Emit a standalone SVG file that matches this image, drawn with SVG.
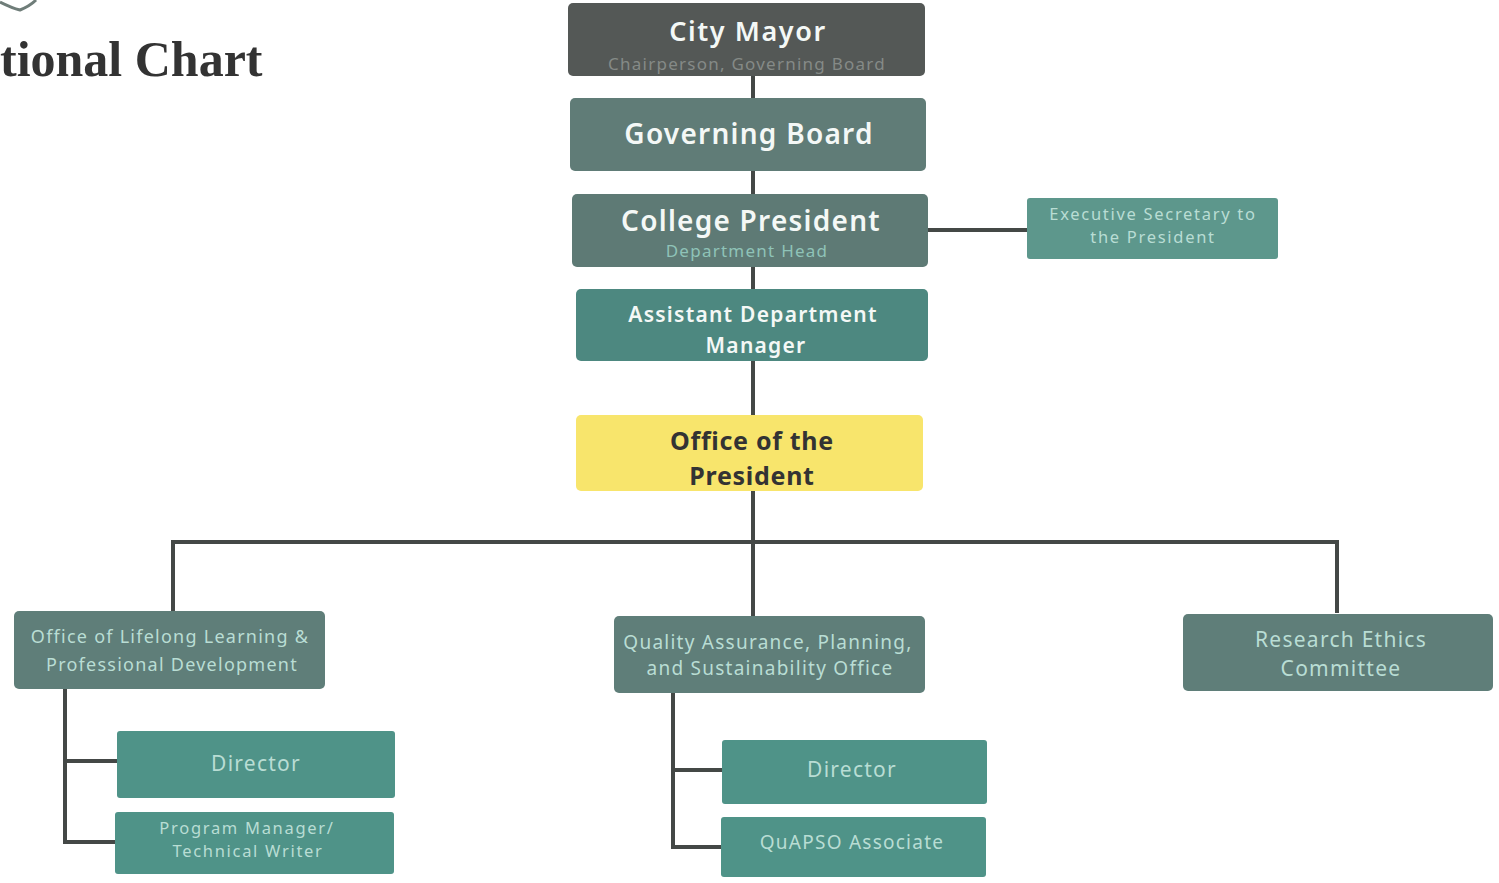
<svg xmlns="http://www.w3.org/2000/svg" width="1499" height="883" viewBox="0 0 1499 883">
<style>
.n{font-family:"Noto Sans","Open Sans",sans-serif;text-anchor:middle;letter-spacing:1.25px}
.t{font-weight:600;fill:#f4f8f6}
.s{fill:#b9ddd4}
.sm{font-size:16.5px;letter-spacing:1.7px}
.c{fill:none;stroke:#444846;stroke-width:4}
</style>
<rect width="1499" height="883" fill="#ffffff"/>
<path d="M0,2 Q12,8 20,10 Q30,6 36,0" fill="none" stroke="#6f7d79" stroke-width="3"/>
<text x="0" y="76" font-family="'Liberation Serif','DejaVu Serif',serif" font-weight="bold" font-size="50" fill="#333333">tional Chart</text>
<g id="connectors">
<path class="c" d="M753,76 V616"/>
<path class="c" d="M928,230 H1027"/>
<path class="c" d="M173,611 V542 H1337 V613"/>
<path class="c" d="M65,689 V842 H116 M65,761 H117"/>
<path class="c" d="M673,693 V847 H721 M673,770 H722"/>
</g>
<g id="city-mayor">
<rect x="568" y="3" width="357" height="73" rx="5" fill="#545856"/>
<text class="n t" x="748" y="41" font-size="27" style="letter-spacing:1.6px">City Mayor</text>
<text class="n" x="747" y="70" font-size="17" fill="#858a87">Chairperson, Governing Board</text>
</g>
<g id="governing-board">
<rect x="570" y="98" width="356" height="73" rx="5" fill="#607c77"/>
<text class="n t" x="749" y="144" font-size="28">Governing Board</text>
</g>
<g id="college-president">
<rect x="572" y="194" width="356" height="73" rx="5" fill="#5e7a75"/>
<text class="n t" x="751" y="231" font-size="28">College President</text>
<text class="n" x="747" y="257" font-size="17" fill="#8fc3b8">Department Head</text>
</g>
<g id="executive-secretary">
<rect x="1027" y="198" width="251" height="61" rx="3" fill="#5d978c"/>
<text class="n s sm"><tspan x="1153" y="220">Executive Secretary to</tspan><tspan x="1153" y="243">the President</tspan></text>
</g>
<g id="assistant-department-manager">
<rect x="576" y="289" width="352" height="72" rx="5" fill="#4d8880"/>
<text class="n t" font-size="21"><tspan x="753" y="322">Assistant Department</tspan><tspan x="756" y="353">Manager</tspan></text>
</g>
<g id="office-of-the-president">
<rect x="576" y="415" width="347" height="76" rx="5" fill="#f8e56c"/>
<text class="n" font-size="25" font-weight="bold" fill="#333333" style="letter-spacing:0.7px"><tspan x="752" y="450">Office of the</tspan><tspan x="752" y="485">President</tspan></text>
</g>
<g id="lifelong-learning">
<rect x="14" y="611" width="311" height="78" rx="5" fill="#5f7e79"/>
<text class="n s" font-size="18"><tspan x="170" y="643">Office of Lifelong Learning &amp;</tspan><tspan x="172" y="671">Professional Development</tspan></text>
</g>
<g id="qapso">
<rect x="614" y="616" width="311" height="77" rx="5" fill="#5f7e79"/>
<text class="n s" font-size="19"><tspan x="768" y="649">Quality Assurance, Planning,</tspan><tspan x="770" y="675">and Sustainability Office</tspan></text>
</g>
<g id="research-ethics">
<rect x="1183" y="614" width="310" height="77" rx="5" fill="#5f7e79"/>
<text class="n s" font-size="21"><tspan x="1341" y="647">Research Ethics</tspan><tspan x="1341" y="676">Committee</tspan></text>
</g>
<g id="director-left">
<rect x="117" y="731" width="278" height="67" rx="3" fill="#4f9388"/>
<text class="n s" x="256" y="771" font-size="21">Director</text>
</g>
<g id="program-manager">
<rect x="115" y="812" width="279" height="62" rx="3" fill="#4f9388"/>
<text class="n s sm"><tspan x="247" y="834">Program Manager/</tspan><tspan x="248" y="857">Technical Writer</tspan></text>
</g>
<g id="director-right">
<rect x="722" y="740" width="265" height="64" rx="3" fill="#4f9388"/>
<text class="n s" x="852" y="777" font-size="21">Director</text>
</g>
<g id="quapso-associate">
<rect x="721" y="817" width="265" height="60" rx="3" fill="#4f9388"/>
<text class="n s" x="852" y="849" font-size="19">QuAPSO Associate</text>
</g>
</svg>
